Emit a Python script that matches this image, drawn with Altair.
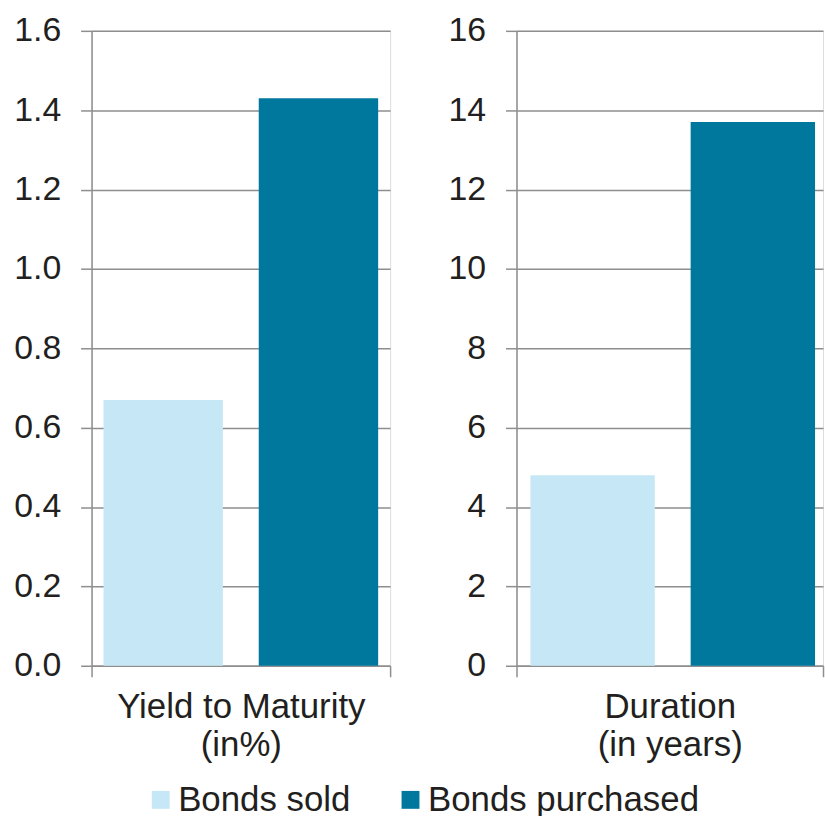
import altair as alt
import pandas as pd

metrics = ["Yield to Maturity (in%)", "Duration (in years)"]
metric_titles = [["Yield to Maturity", "(in%)"], ["Duration", "(in years)"]]
series = ["Bonds sold", "Bonds purchased"]
bonds_sold = [0.67, 4.8]
bonds_purchased = [1.43, 13.7]
colors = ["#C6E8F6", "#00789E"]

yield_ticks = [0.0, 0.2, 0.4, 0.6, 0.8, 1.0, 1.2, 1.4, 1.6]
duration_ticks = [0, 2, 4, 6, 8, 10, 12, 14, 16]

rows = []
for i, m in enumerate(metrics):
    rows.append({"metric": m, "series": series[0], "value": bonds_sold[i]})
    rows.append({"metric": m, "series": series[1], "value": bonds_purchased[i]})
df = pd.DataFrame(rows)

FONT = "Liberation Sans"
TEXT = "#231F20"
GRID = "#8E8E8E"


def panel(i, ticks, fmt, width, off_scale):
    d = df[df["metric"] == metrics[i]]
    return (
        alt.Chart(d)
        .mark_bar()
        .encode(
            x=alt.X(
                "metric:N",
                scale=alt.Scale(paddingInner=0, paddingOuter=0),
                axis=alt.Axis(
                    labels=False,
                    title=metric_titles[i],
                    tickBand="extent",
                    tickSize=11,
                    tickColor=GRID,
                    tickWidth=1.5,
                    domainColor=GRID,
                    domainWidth=1.5,
                    titleFont=FONT,
                    titleFontSize=35,
                    titleFontWeight="normal",
                    titleColor=TEXT,
                    titlePadding=12,
                    titleLineHeight=38,
                ),
            ),
            xOffset=alt.XOffset("series:N", sort=series, scale=off_scale),
            y=alt.Y(
                "value:Q",
                scale=alt.Scale(domain=[ticks[0], ticks[-1]], nice=False),
                axis=alt.Axis(
                    values=ticks,
                    format=fmt,
                    title=None,
                    grid=True,
                    gridColor=GRID,
                    gridWidth=1.5,
                    domainColor=GRID,
                    domainWidth=1.5,
                    tickColor=GRID,
                    tickWidth=1.5,
                    tickSize=11,
                    labelPadding=20,
                    labelFont=FONT,
                    labelFontSize=34,
                    labelColor=TEXT,
                ),
            ),
            color=alt.Color(
                "series:N",
                sort=series,
                scale=alt.Scale(domain=series, range=colors),
                legend=alt.Legend(
                    title=None,
                    orient="none",
                    direction="horizontal",
                    legendX=52,
                    legendY=755,
                    symbolType="square",
                    symbolSize=324,
                    symbolStrokeWidth=0,
                    labelFont=FONT,
                    labelFontSize=35,
                    labelColor=TEXT,
                    labelOffset=0,
                    labelLimit=400,
                    columnPadding=42,
                ),
            ),
        )
        .properties(width=width, height=638)
    )


left = panel(
    0, yield_ticks, ".1f", 300,
    alt.Scale(paddingInner=0.2308, paddingOuter=0.077),
)
right = panel(
    1, duration_ticks, "d", 308,
    alt.Scale(paddingInner=0.2236, paddingOuter=0.0683, align=0.636),
)

chart = (
    alt.hconcat(left, right, spacing=55)
    .resolve_scale(xOffset="independent", y="independent")
    .properties(padding={"left": 13, "top": 11, "right": 0, "bottom": 0})
    .configure_view(stroke=None)
    .configure(background="white")
)

chart.save("out.html", embed_options={"renderer": "svg", "actions": False})
